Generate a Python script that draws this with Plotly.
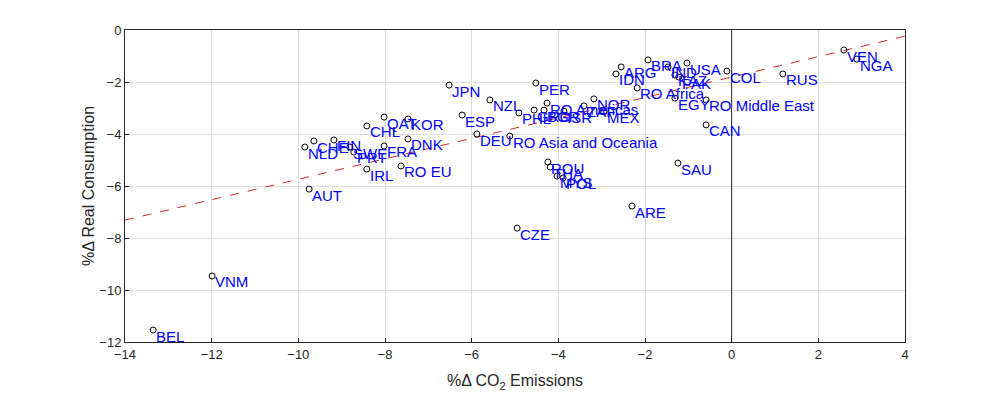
import plotly.graph_objects as go

# % change in CO2 emissions vs % change in real consumption, by country/region
labels = ["BEL", "VNM", "AUT", "IRL", "RO EU", "NLD", "CHE", "FIN", "SWE", "PRT",
          "FRA", "CHL", "QAT", "KOR", "DNK", "ESP", "DEU", "NZL", "JPN", "PER",
          "RO Asia and Oceania", "PHL", "GRC", "BGR", "RO Americas", "ISR", "ZAF",
          "NOR", "MEX", "ROU", "THA", "MYS", "POL", "CZE", "ARE", "SAU", "ARG",
          "IDN", "RO Africa", "BRA", "IND", "USA", "KAZ", "PAK", "EGY",
          "RO Middle East", "CAN", "COL", "RUS", "VEN", "NGA"]
co2 = [-13.35, -11.99, -9.75, -8.42, -7.63, -9.85, -9.64, -9.18, -8.81, -8.72,
       -8.02, -8.42, -8.02, -7.47, -7.47, -6.22, -5.88, -5.58, -6.52, -4.52,
       -5.12, -4.91, -4.56, -4.33, -4.26, -3.87, -3.41,
       -3.18, -2.95, -4.24, -4.19, -4.03, -3.89, -4.95, -2.30, -1.24, -2.55,
       -2.67, -2.18, -1.93, -1.47, -1.03, -1.31, -1.22, -1.31,
       -0.59, -0.59, -0.11, 1.18, 2.59, 2.89]
consumption = [-11.54, -9.46, -6.12, -5.35, -5.23, -4.50, -4.27, -4.23, -4.50, -4.69,
               -4.46, -3.69, -3.35, -3.42, -4.19, -3.27, -4.00, -2.69, -2.12, -2.04,
               -4.08, -3.19, -3.08, -3.08, -2.81, -3.12, -2.92,
               -2.65, -3.15, -5.08, -5.27, -5.62, -5.69, -7.62, -6.77, -5.12, -1.42,
               -1.69, -2.23, -1.15, -1.42, -1.27, -1.73, -1.81, -2.62,
               -2.69, -3.65, -1.58, -1.69, -0.77, -1.12]

# fitted trend line
fit_intercept = -1.81
fit_slope = 0.393
x_range = [-14, 4]
y_range = [-12, 0]
tick_x = [-14, -12, -10, -8, -6, -4, -2, 0, 2, 4]
tick_y = [-12, -10, -8, -6, -4, -2, 0]

fig = go.Figure()

fig.add_trace(go.Scatter(
    x=x_range,
    y=[fit_intercept + fit_slope * v for v in x_range],
    mode="lines",
    line=dict(color="#d62728", width=1, dash="dash"),
    hoverinfo="skip",
))

fig.add_trace(go.Scatter(
    x=co2, y=consumption, mode="markers",
    marker=dict(symbol="circle-open", size=6, color="black", line=dict(width=1)),
    text=labels,
))

for name, xv, yv in zip(labels, co2, consumption):
    fig.add_annotation(x=xv, y=yv, text=name, showarrow=False,
                       xanchor="left", yanchor="middle", xshift=1, yshift=-6,
                       font=dict(family="Liberation Sans, Arial", size=15, color="#0000ff"))

# vertical line at x = 0
fig.add_shape(type="line", x0=0, x1=0, y0=y_range[0], y1=y_range[1],
              xref="x", yref="y", line=dict(color="#262626", width=1))

axis_style = dict(showgrid=True, gridcolor="#dcdcdc", gridwidth=1, zeroline=False,
                  showline=True, linecolor="#262626", linewidth=1, mirror=True,
                  ticks="inside", ticklen=4, tickcolor="#262626",
                  tickfont=dict(family="Liberation Sans, Arial", size=13, color="#262626"))

fig.update_layout(
    width=1000, height=400,
    showlegend=False,
    plot_bgcolor="white", paper_bgcolor="white",
    margin=dict(l=117, r=103, t=22, b=66),
    xaxis=dict(range=x_range, tickvals=tick_x,
               title=dict(text="%\u0394 CO<sub>2</sub> Emissions", standoff=14,
                          font=dict(family="Liberation Sans, Arial", size=16, color="#262626")),
               **axis_style),
    yaxis=dict(range=y_range, tickvals=tick_y,
               title=dict(text="%\u0394 Real Consumption", standoff=0,
                          font=dict(family="Liberation Sans, Arial", size=16, color="#262626")),
               **axis_style),
)

fig.write_html("out.html")
